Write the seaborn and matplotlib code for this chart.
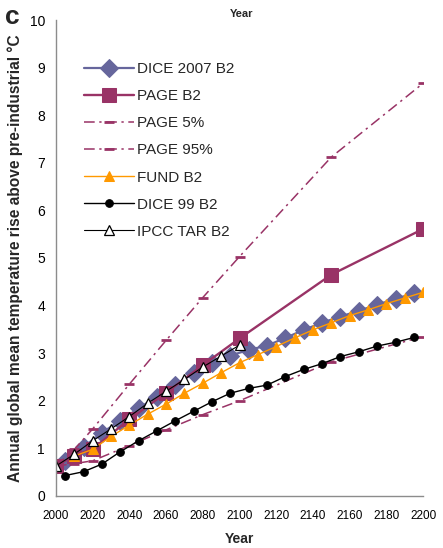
import matplotlib
matplotlib.use("Agg")
import matplotlib.pyplot as plt
import seaborn as sns

# --- data -------------------------------------------------------------
dice07_years = [2005, 2015, 2025, 2035, 2045, 2055, 2065, 2075, 2085, 2095,
                2105, 2115, 2125, 2135, 2145, 2155, 2165, 2175, 2185, 2195]
dice07_temp = [0.73, 1.03, 1.33, 1.58, 1.84, 2.09, 2.33, 2.58, 2.79, 2.95,
               3.07, 3.16, 3.32, 3.49, 3.64, 3.77, 3.89, 4.02, 4.14, 4.26]

page_years = [2000, 2010, 2020, 2040, 2060, 2080, 2100, 2150, 2200]
page_b2 = [0.63, 0.85, 0.99, 1.61, 2.17, 2.75, 3.31, 4.65, 5.61]
page_5 = [0.63, 0.68, 0.74, 1.06, 1.39, 1.71, 2.00, 2.82, 3.35]
page_95 = [0.63, 0.98, 1.41, 2.35, 3.27, 4.17, 5.03, 7.12, 8.67]

fund_years = [2010, 2020, 2030, 2040, 2050, 2060, 2070, 2080, 2090, 2100,
              2110, 2120, 2130, 2140, 2150, 2160, 2170, 2180, 2190, 2200]
fund_temp = [0.84, 0.98, 1.25, 1.49, 1.72, 1.93, 2.16, 2.37, 2.59, 2.80,
             2.97, 3.14, 3.32, 3.49, 3.64, 3.79, 3.91, 4.04, 4.16, 4.28]

dice99_years = [2005, 2015, 2025, 2035, 2045, 2055, 2065, 2075, 2085, 2095,
                2105, 2115, 2125, 2135, 2145, 2155, 2165, 2175, 2185, 2195]
dice99_temp = [0.43, 0.51, 0.67, 0.93, 1.16, 1.37, 1.58, 1.78, 1.98, 2.16,
               2.26, 2.33, 2.51, 2.66, 2.78, 2.93, 3.03, 3.15, 3.23, 3.33]

ipcc_years = [2000, 2010, 2020, 2030, 2040, 2050, 2060, 2070, 2080, 2090, 2100]
ipcc_temp = [0.63, 0.88, 1.16, 1.41, 1.67, 1.95, 2.20, 2.45, 2.71, 2.94, 3.17]

x_ticks = list(range(2000, 2201, 20))
y_ticks = list(range(0, 11))

# --- style ------------------------------------------------------------
sns.set_style("white")
plt.rcParams["font.family"] = ["Liberation Sans", "DejaVu Sans"]

DICE07_C = "#66669C"
PAGE_C = "#993366"
FUND_C = "#FF9900"
GREY = "#8C8C8C"

fig = plt.figure(figsize=(4.43, 5.48), dpi=100)
ax = fig.add_axes([0.1264, 0.0949, 0.8286, 0.8686])

sns.lineplot(x=dice07_years, y=dice07_temp, ax=ax, color=DICE07_C,
             linewidth=1.6, marker="D", markersize=9, markeredgecolor=DICE07_C,
             label="DICE 2007 B2", errorbar=None)
sns.lineplot(x=page_years, y=page_b2, ax=ax, color=PAGE_C,
             linewidth=1.7, marker="s", markersize=9.5, markeredgecolor=PAGE_C,
             label="PAGE B2", errorbar=None)
dashdot = (0, (7, 3, 1.5, 3))
sns.lineplot(x=page_years, y=page_5, ax=ax, color=PAGE_C,
             linewidth=1.1, linestyle=dashdot, marker="_", markersize=7,
             markeredgewidth=2, markeredgecolor=PAGE_C,
             label="PAGE 5%", errorbar=None)
sns.lineplot(x=page_years, y=page_95, ax=ax, color=PAGE_C,
             linewidth=1.1, linestyle=dashdot, marker="_", markersize=7,
             markeredgewidth=2, markeredgecolor=PAGE_C,
             label="PAGE 95%", errorbar=None)
sns.lineplot(x=fund_years, y=fund_temp, ax=ax, color=FUND_C,
             linewidth=1.0, marker="^", markersize=7.5, markeredgecolor=FUND_C,
             label="FUND B2", errorbar=None)
sns.lineplot(x=dice99_years, y=dice99_temp, ax=ax, color="black",
             linewidth=1.0, marker="o", markersize=5.5, markeredgecolor="black",
             label="DICE 99 B2", errorbar=None)
sns.lineplot(x=ipcc_years, y=ipcc_temp, ax=ax, color="black",
             linewidth=0.8, marker="^", markersize=6.5, markerfacecolor="white",
             markeredgecolor="black", markeredgewidth=0.9,
             label="IPCC TAR B2", errorbar=None)

ax.set_xlim(2000, 2200)
ax.set_ylim(0, 10)
ax.set_xticks(x_ticks)
ax.set_yticks(y_ticks)
ax.set_xticklabels([str(t) for t in x_ticks], fontsize=8.5)
ax.set_yticklabels([str(t) for t in y_ticks], fontsize=10)

for side in ("top", "right"):
    ax.spines[side].set_visible(False)
for side in ("left", "bottom"):
    ax.spines[side].set_color(GREY)
    ax.spines[side].set_linewidth(1.0)
ax.tick_params(axis="both", direction="out", length=4, width=1.0,
               color=GREY, labelcolor="black")
ax.tick_params(axis="x", pad=6)
ax.tick_params(axis="y", pad=4)

ax.set_xlabel("Year", fontsize=10, fontweight="bold", labelpad=7)
ax.set_ylabel("Annual global mean temperature rise above pre-industrial \u00b0C",
              fontsize=11.2, fontweight="bold", labelpad=5)

leg = ax.legend(loc="upper left", bbox_to_anchor=(84 / 443, 1 - 62 / 548),
                bbox_transform=fig.transFigure, frameon=False, fontsize=11,
                handlelength=3.3, handletextpad=0.2, labelspacing=0.86,
                borderpad=0, borderaxespad=0)

fig.text(242 / 443, 1 - 14 / 548, "Year", ha="center", va="center",
         fontsize=8, fontweight="bold")
fig.text(5 / 443, 1 - 17 / 548, "c", ha="left", va="center",
         fontsize=19, fontweight="bold")
fig.text(5 / 443, -0.012, "e", ha="left", va="center",
         fontsize=19, fontweight="bold")

fig.savefig("out.png", dpi=100)
